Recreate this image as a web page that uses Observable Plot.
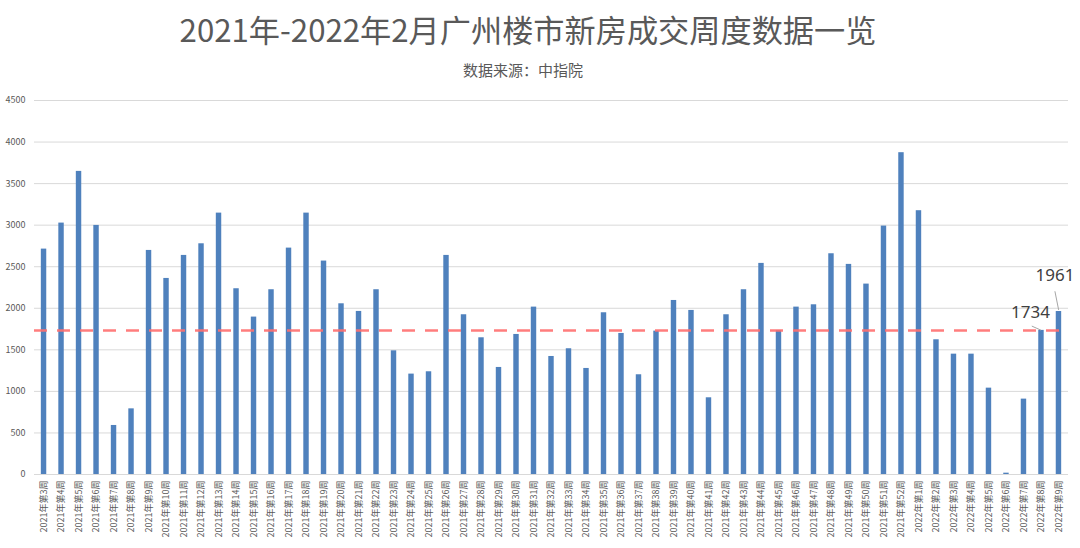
<!DOCTYPE html>
<html>
<head>
<meta charset="utf-8">
<script src="https://cdn.jsdelivr.net/npm/d3@7"></script>
<script src="https://cdn.jsdelivr.net/npm/@observablehq/plot@0.6"></script>
<style>
  html, body { margin: 0; padding: 0; background: #ffffff; }
  #wrap { position: relative; width: 1080px; height: 548px; overflow: hidden; background: #fff; }
  #head { position: relative; width: 1080px; height: 90px; }
  #title { position: absolute; left: -12px; width: 1080px; top: 9px; height: 40px; line-height: 40px;
           text-align: center; font-family: "Noto Sans CJK SC", sans-serif; font-size: 31.2px; color: #595959; }
  #subtitle { position: absolute; left: -17px; width: 1080px; top: 60px; height: 20px; line-height: 20px;
           text-align: center; font-family: "Noto Sans CJK SC", sans-serif; font-size: 15px; color: #595959; }
</style>
</head>
<body>
<div id="wrap">
  <div id="head">
    <div id="title">2021年-2022年2月广州楼市新房成交周度数据一览</div>
    <div id="subtitle">数据来源：中指院</div>
  </div>
  <div id="chart"></div>
</div>
<script>
const weeks2021 = ["2021年第3周","2021年第4周","2021年第5周","2021年第6周","2021年第7周","2021年第8周","2021年第9周","2021年第10周","2021年第11周","2021年第12周","2021年第13周","2021年第14周","2021年第15周","2021年第16周","2021年第17周","2021年第18周","2021年第19周","2021年第20周","2021年第21周","2021年第22周","2021年第23周","2021年第24周","2021年第25周","2021年第26周","2021年第27周","2021年第28周","2021年第29周","2021年第30周","2021年第31周","2021年第32周","2021年第33周","2021年第34周","2021年第35周","2021年第36周","2021年第37周","2021年第38周","2021年第39周","2021年第40周","2021年第41周","2021年第42周","2021年第43周","2021年第44周","2021年第45周","2021年第46周","2021年第47周","2021年第48周","2021年第49周","2021年第50周","2021年第51周","2021年第52周"];
const weeks2022 = ["2022年第1周","2022年第2周","2022年第3周","2022年第4周","2022年第5周","2022年第6周","2022年第7周","2022年第8周","2022年第9周"];
const values2021 = [2712,3025,3647,2997,590,790,2696,2359,2636,2776,3145,2235,1894,2223,2724,3145,2568,2054,1962,2223,1488,1208,1236,2636,1922,1645,1288,1685,2014,1420,1513,1276,1946,1697,1200,1725,2094,1974,923,1922,2223,2540,1733,2014,2042,2656,2528,2291,2989,3872];
const values2022 = [3174,1621,1448,1448,1039,16,907,1734,1961];
const referenceValue = 1734;
const yTicks = [0,500,1000,1500,2000,2500,3000,3500,4000,4500];
const labelledWeeks = ["2022年第8周","2022年第9周"];

const weeks = weeks2021.concat(weeks2022);
const values = values2021.concat(values2022);
const data = weeks.map((w, i) => ({week: w, value: values[i]}));
const lab1734 = data.filter(d => d.week === labelledWeeks[0]);
const lab1961 = data.filter(d => d.week === labelledWeeks[1]);
const prevWeek = w => weeks[weeks.indexOf(w) - 1];

const chart = Plot.plot({
  width: 1080,
  height: 458,
  marginTop: 10,
  marginBottom: 74,
  marginLeft: 34,
  marginRight: 12,
  style: {fontFamily: "'Noto Sans CJK SC', sans-serif", fontSize: "9px", color: "#595959", background: "#ffffff"},
  x: {domain: weeks, round: false, paddingInner: 0.69, paddingOuter: 0.39, tickRotate: -90, tickSize: 0, tickPadding: 6, label: null},
  y: {domain: [0, 4500], ticks: yTicks, tickSize: 0, tickPadding: 9, tickFormat: d => String(d), label: null},
  marks: [
    Plot.ruleY(yTicks, {stroke: "#d9d9d9", strokeWidth: 1}),
    Plot.barY(data, {x: "week", y: "value", fill: "#4f81bd"}),
    Plot.ruleY([referenceValue], {stroke: "#ff6f6f", strokeWidth: 2.5, strokeDasharray: "13,10", strokeOpacity: 0.9}),
    Plot.arrow(lab1734, {x1: "week", y1: "value", x2: d => prevWeek(d.week), y2: d => d.value + 94, headLength: 0, insetStart: 1, insetEnd: 9, stroke: "#a6a6a6", strokeWidth: 1}),
    Plot.arrow(lab1961, {x1: "week", y1: "value", x2: d => prevWeek(d.week), y2: d => d.value + 1053, headLength: 0, insetStart: 2, insetEnd: 69, stroke: "#a6a6a6", strokeWidth: 1}),
    Plot.text(lab1734, {x: "week", y: "value", text: d => String(d.value), dx: -11, dy: -18, fill: "#404040", fontSize: 17, fontFamily: "'Noto Sans', sans-serif"}),
    Plot.text(lab1961, {x: "week", y: "value", text: d => String(d.value), dx: -4, dy: -36, fill: "#404040", fontSize: 17, fontFamily: "'Noto Sans', sans-serif"})
  ]
});
document.getElementById("chart").appendChild(chart);
</script>
</body>
</html>
